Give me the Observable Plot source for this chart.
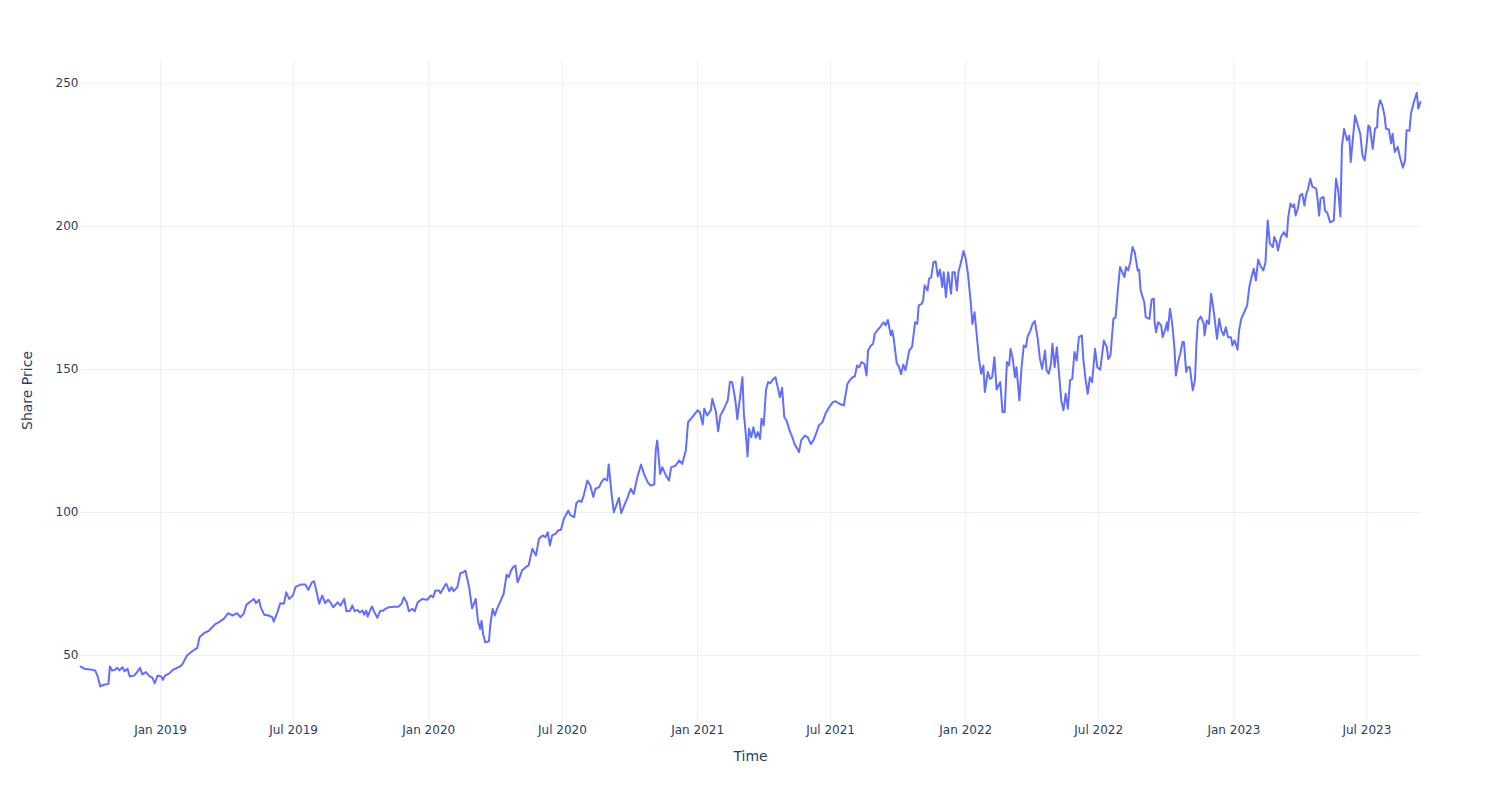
<!DOCTYPE html>
<html>
<head>
<meta charset="utf-8">
<script src="https://cdn.jsdelivr.net/npm/d3@7"></script>
<script src="https://cdn.jsdelivr.net/npm/@observablehq/plot@0.6"></script>
<style>
  html, body { margin: 0; padding: 0; background: #fff; }
  #chart svg { display: block; }
</style>
</head>
<body>
<div id="chart"></div>
<script>
const dates = [
"2018-09-14","2018-09-19","2018-09-30","2018-10-04","2018-10-07","2018-10-11","2018-10-16","2018-10-22","2018-10-24","2018-10-27",
"2018-10-31","2018-11-03","2018-11-06","2018-11-10","2018-11-13","2018-11-17","2018-11-20","2018-11-26","2018-11-30","2018-12-04",
"2018-12-07","2018-12-12","2018-12-16","2018-12-21","2018-12-24","2018-12-28","2019-01-02","2019-01-04","2019-01-07","2019-01-12",
"2019-01-18","2019-01-21","2019-01-28","2019-01-31","2019-02-06","2019-02-13","2019-02-20","2019-02-23","2019-03-01","2019-03-08",
"2019-03-10","2019-03-17","2019-03-21","2019-03-28","2019-04-03","2019-04-09","2019-04-15","2019-04-20","2019-04-24","2019-04-28",
"2019-05-04","2019-05-08","2019-05-11","2019-05-15","2019-05-17","2019-05-22","2019-05-28","2019-06-02","2019-06-04","2019-06-09",
"2019-06-13","2019-06-18","2019-06-21","2019-06-25","2019-06-30","2019-07-04","2019-07-11","2019-07-17","2019-07-21","2019-07-26",
"2019-07-29","2019-08-01","2019-08-05","2019-08-09","2019-08-13","2019-08-17","2019-08-20","2019-08-24","2019-08-30","2019-09-03",
"2019-09-08","2019-09-11","2019-09-16","2019-09-19","2019-09-22","2019-09-26","2019-09-29","2019-10-03","2019-10-05","2019-10-08",
"2019-10-10","2019-10-14","2019-10-16","2019-10-18","2019-10-23","2019-10-27","2019-10-31","2019-11-03","2019-11-08","2019-11-15",
"2019-11-21","2019-11-25","2019-11-28","2019-12-02","2019-12-05","2019-12-10","2019-12-13","2019-12-17","2019-12-23","2019-12-30",
"2020-01-04","2020-01-07","2020-01-10","2020-01-15","2020-01-17","2020-01-23","2020-01-25","2020-01-29","2020-02-01","2020-02-04",
"2020-02-09","2020-02-13","2020-02-17","2020-02-20","2020-02-25","2020-02-29","2020-03-05","2020-03-08","2020-03-11","2020-03-13",
"2020-03-15","2020-03-18","2020-03-23","2020-03-25","2020-03-28","2020-03-31","2020-04-03","2020-04-08","2020-04-12","2020-04-16",
"2020-04-19","2020-04-22","2020-04-25","2020-04-28","2020-05-01","2020-05-03","2020-05-07","2020-05-12","2020-05-16","2020-05-21",
"2020-05-26","2020-05-30","2020-06-04","2020-06-08","2020-06-11","2020-06-14","2020-06-17","2020-06-22","2020-06-25","2020-06-29",
"2020-07-03","2020-07-09","2020-07-12","2020-07-17","2020-07-20","2020-07-24","2020-07-27","2020-07-30","2020-08-04","2020-08-08",
"2020-08-12","2020-08-15","2020-08-20","2020-08-23","2020-08-27","2020-08-31","2020-09-02","2020-09-06","2020-09-09","2020-09-13",
"2020-09-16","2020-09-19","2020-09-24","2020-09-27","2020-10-02","2020-10-06","2020-10-11","2020-10-16","2020-10-20","2020-10-25",
"2020-10-29","2020-11-03","2020-11-05","2020-11-07","2020-11-11","2020-11-14","2020-11-19","2020-11-23","2020-11-26","2020-12-02",
"2020-12-07","2020-12-11","2020-12-16","2020-12-19","2020-12-25","2021-01-01","2021-01-04","2021-01-08","2021-01-10","2021-01-14",
"2021-01-19","2021-01-21","2021-01-26","2021-01-29","2021-02-01","2021-02-06","2021-02-11","2021-02-14","2021-02-17","2021-02-20",
"2021-02-22","2021-02-24","2021-02-28","2021-03-03","2021-03-05","2021-03-08","2021-03-10","2021-03-12","2021-03-15","2021-03-18",
"2021-03-21","2021-03-24","2021-03-27","2021-03-29","2021-04-01","2021-04-04","2021-04-07","2021-04-10","2021-04-14","2021-04-17",
"2021-04-20","2021-04-23","2021-04-26","2021-04-29","2021-05-02","2021-05-07","2021-05-10","2021-05-13","2021-05-17","2021-05-19",
"2021-05-22","2021-05-27","2021-05-31","2021-06-04","2021-06-08","2021-06-12","2021-06-15","2021-06-20","2021-06-24","2021-06-29",
"2021-07-04","2021-07-08","2021-07-13","2021-07-19","2021-07-24","2021-07-27","2021-07-31","2021-08-03","2021-08-06","2021-08-09",
"2021-08-12","2021-08-16","2021-08-19","2021-08-21","2021-08-25","2021-08-28","2021-08-30","2021-09-03","2021-09-07","2021-09-11",
"2021-09-14","2021-09-17","2021-09-21","2021-09-23","2021-09-25","2021-09-29","2021-10-02","2021-10-05","2021-10-08","2021-10-11",
"2021-10-16","2021-10-20","2021-10-24","2021-10-27","2021-10-29","2021-11-02","2021-11-04","2021-11-06","2021-11-10","2021-11-12",
"2021-11-15","2021-11-18","2021-11-21","2021-11-24","2021-11-27","2021-11-30","2021-12-02","2021-12-05","2021-12-08","2021-12-12",
"2021-12-14","2021-12-17","2021-12-20","2021-12-22","2021-12-25","2021-12-29","2022-01-01","2022-01-04","2022-01-08","2022-01-10",
"2022-01-13","2022-01-16","2022-01-19","2022-01-22","2022-01-25","2022-01-27","2022-01-31","2022-02-03","2022-02-06","2022-02-09",
"2022-02-12","2022-02-17","2022-02-20","2022-02-23","2022-02-26","2022-03-01","2022-03-03","2022-03-06","2022-03-09","2022-03-11",
"2022-03-15","2022-03-18","2022-03-21","2022-03-24","2022-03-26","2022-03-30","2022-04-02","2022-04-05","2022-04-09","2022-04-12",
"2022-04-15","2022-04-19","2022-04-21","2022-04-24","2022-04-27","2022-04-29","2022-05-02","2022-05-05","2022-05-08","2022-05-11",
"2022-05-14","2022-05-17","2022-05-20","2022-05-23","2022-05-26","2022-05-29","2022-06-01","2022-06-04","2022-06-08","2022-06-10",
"2022-06-13","2022-06-16","2022-06-19","2022-06-22","2022-06-26","2022-06-29","2022-07-03","2022-07-08","2022-07-12","2022-07-14",
"2022-07-17","2022-07-21","2022-07-24","2022-07-27","2022-07-30","2022-08-02","2022-08-05","2022-08-07","2022-08-10","2022-08-13",
"2022-08-16","2022-08-19","2022-08-23","2022-08-25","2022-08-27","2022-09-01","2022-09-03","2022-09-08","2022-09-11","2022-09-14",
"2022-09-15","2022-09-17","2022-09-20","2022-09-24","2022-09-26","2022-09-29","2022-10-02","2022-10-03","2022-10-06","2022-10-09",
"2022-10-12","2022-10-14","2022-10-17","2022-10-20","2022-10-23","2022-10-25","2022-10-28","2022-10-30","2022-11-02","2022-11-06",
"2022-11-09","2022-11-11","2022-11-13","2022-11-17","2022-11-21","2022-11-22","2022-11-25","2022-11-28","2022-12-01","2022-12-05",
"2022-12-09","2022-12-12","2022-12-15","2022-12-18","2022-12-21","2022-12-24","2022-12-28","2022-12-30","2023-01-02","2023-01-06",
"2023-01-08","2023-01-11","2023-01-15","2023-01-19","2023-01-22","2023-01-25","2023-01-28","2023-01-31","2023-02-03","2023-02-07",
"2023-02-10","2023-02-13","2023-02-16","2023-02-19","2023-02-23","2023-02-25","2023-02-28","2023-03-02","2023-03-06","2023-03-10",
"2023-03-14","2023-03-16","2023-03-19","2023-03-22","2023-03-24","2023-03-26","2023-03-29","2023-04-01","2023-04-04","2023-04-07",
"2023-04-09","2023-04-12","2023-04-15","2023-04-18","2023-04-23","2023-04-25","2023-04-27","2023-04-29","2023-05-03","2023-05-05",
"2023-05-08","2023-05-12","2023-05-17","2023-05-20","2023-05-23","2023-05-26","2023-05-28","2023-05-31","2023-06-04","2023-06-07",
"2023-06-09","2023-06-12","2023-06-15","2023-06-18","2023-06-22","2023-06-25","2023-06-28","2023-07-01","2023-07-03","2023-07-05",
"2023-07-09","2023-07-12","2023-07-15","2023-07-16","2023-07-19","2023-07-22","2023-07-25","2023-07-27","2023-07-31","2023-08-03",
"2023-08-05","2023-08-08","2023-08-12","2023-08-15","2023-08-19","2023-08-22","2023-08-24","2023-08-28","2023-08-30","2023-09-03",
"2023-09-07","2023-09-09","2023-09-12"
];

const prices = [
46.2,45.4,45.0,44.8,43.0,39.2,39.8,40.1,46.2,44.8,
45.0,45.7,44.8,45.9,44.5,45.4,42.7,43.0,44.2,45.7,
43.4,44.2,43.0,42.2,40.3,43.0,42.7,41.5,43.0,43.6,
45.0,45.4,46.2,47.1,50.0,51.5,52.7,56.4,57.8,58.7,
59.3,61.1,61.6,62.8,64.8,64.0,64.8,63.4,64.6,67.8,
69.0,69.8,68.3,69.5,67.1,64.3,64.0,63.4,61.9,65.1,
68.3,68.1,72.1,69.8,71.0,74.1,74.8,74.8,73.0,75.6,
76.0,72.7,68.1,71.0,68.3,69.5,68.6,66.9,68.6,67.5,
69.8,65.5,65.7,67.5,65.5,66.0,65.1,65.7,64.3,65.7,
63.6,66.3,67.1,65.7,63.2,65.7,65.7,66.3,66.9,67.1,
67.1,68.1,70.4,68.6,65.5,66.3,65.5,68.6,69.8,69.5,
71.0,70.4,72.7,72.7,71.8,74.5,75.1,72.5,73.9,72.5,
73.9,78.8,79.1,79.7,73.9,66.5,69.8,62.2,59.3,62.2,
57.6,54.6,55.0,61.1,66.3,64.0,66.3,69.2,71.6,78.3,
77.4,79.7,80.9,81.5,75.6,76.8,79.7,80.9,81.5,87.3,
85.0,90.8,92.0,91.4,93.1,88.5,92.0,92.6,93.7,94.0,
97.8,100.7,99.0,98.4,103.3,104.2,103.7,106.0,111.2,109.4,
105.4,108.3,108.9,110.6,111.8,111.2,116.8,106.3,100.1,103.0,
105.1,99.8,103.0,104.8,108.3,106.5,112.3,116.8,113.5,110.6,
109.4,109.8,121.7,125.2,113.5,115.8,112.9,111.2,115.8,116.4,
118.2,117.0,121.7,131.6,133.4,135.7,135.1,130.8,136.3,133.9,
135.7,139.8,135.1,128.4,133.9,136.3,139.2,145.6,145.6,141.5,
138.0,132.6,140.8,147.3,134.5,126.3,119.6,129.3,126.3,129.8,
126.1,128.1,125.7,132.8,130.4,142.7,145.6,145.2,146.7,147.3,
143.8,140.3,143.6,133.3,132.2,128.1,126.3,123.9,122.2,121.1,
125.2,126.9,126.3,123.9,125.4,128.1,130.4,131.6,134.5,136.8,
138.6,138.9,138.0,137.4,145.0,146.2,147.3,147.6,151.4,150.8,
152.6,152.0,147.9,156.6,158.4,159.0,162.4,163.8,165.0,166.5,
165.4,167.3,161.9,163.6,160.7,152.2,151.0,148.3,151.7,149.7,
156.6,158.0,166.5,165.9,172.4,172.9,174.1,179.4,177.6,181.7,
182.2,187.5,187.8,182.5,184.9,178.8,184.0,175.3,184.0,176.5,
184.0,184.0,177.6,184.0,186.9,191.4,188.7,183.4,172.9,165.9,
170.0,161.9,153.7,148.5,151.4,142.1,149.1,146.7,147.3,154.3,
143.0,145.6,135.1,135.1,152.6,151.4,157.2,153.7,147.3,150.8,
139.2,150.8,158.4,157.8,161.3,163.6,166.0,166.9,160.7,153.7,
150.2,156.6,149.7,148.5,152.0,159.0,150.8,157.8,148.5,139.2,
135.7,141.5,136.3,146.2,146.7,156.1,153.1,161.3,161.9,153.7,
146.7,141.5,147.3,145.6,157.2,150.8,149.9,160.1,157.8,153.7,
154.9,167.7,168.2,177.6,185.8,184.0,182.3,185.8,184.6,187.5,
192.8,191.0,184.6,184.9,177.6,173.5,168.3,167.7,174.4,174.8,
167.1,163.0,166.5,165.4,161.3,163.6,166.5,163.6,171.2,166.0,
157.8,147.9,152.6,155.5,159.6,159.6,149.1,150.8,150.8,142.7,
146.2,159.0,167.1,168.5,165.9,161.9,167.1,165.9,176.5,169.5,
160.7,167.7,163.6,161.9,164.8,161.3,161.3,158.4,160.1,156.9,
163.6,167.7,170.0,172.4,178.8,182.3,185.2,181.1,188.4,185.8,
184.6,187.5,202.1,194.0,192.8,196.3,194.5,191.6,196.3,198.0,
196.3,203.3,208.0,206.8,207.7,203.8,206.2,210.8,211.4,207.3,
210.8,213.2,216.7,213.8,213.2,209.1,203.8,209.7,210.3,205.5,
204.9,201.4,202.1,216.7,212.6,203.5,227.8,234.1,230.1,231.8,
222.5,230.7,238.8,235.9,232.4,224.8,223.1,229.5,235.3,234.7,
227.1,234.2,234.7,240.6,244.1,242.3,238.8,234.2,233.9,229.0,
232.4,226.0,227.8,224.3,220.5,223.1,233.6,233.4,239.4,243.5,
246.7,241.2,243.5
];

const xTickDates = ["2019-01-01","2019-07-01","2020-01-01","2020-07-01","2021-01-01","2021-07-01","2022-01-01","2022-07-01","2023-01-01","2023-07-01"];
const yTickValues = [50, 100, 150, 200, 250];
const xTitle = "Time";
const yTitle = "Share Price";

const data = dates.map((d, i) => ({date: new Date(d), price: prices[i]}));
const xTicks = xTickDates.map(d => new Date(d));
const gridColor = "#ebf0f8";
const fmt = d3.utcFormat("%b %Y");

const chart = Plot.plot({
  width: 1500,
  height: 800,
  marginLeft: 80,
  marginRight: 80,
  marginTop: 60,
  marginBottom: 80,
  style: {fontFamily: "'DejaVu Sans', Verdana, sans-serif", fontSize: "12px", color: "#2a3f5f", background: "#fff"},
  x: {type: "utc", domain: d3.extent(data, d => d.date), label: null},
  y: {domain: [27.3, 258], label: null},
  marks: [
    Plot.gridX(xTicks, {stroke: gridColor, strokeOpacity: 1, strokeWidth: 1}),
    Plot.gridY(yTickValues, {stroke: gridColor, strokeOpacity: 1, strokeWidth: 1}),
    Plot.lineY(data, {x: "date", y: "price", stroke: "#636efa", strokeWidth: 2}),
    Plot.axisX(xTicks, {tickSize: 0, tickPadding: 5, tickFormat: fmt, label: null, fontSize: 12}),
    Plot.axisY(yTickValues, {tickSize: 0, tickPadding: 2, label: null, fontSize: 12}),
    Plot.text([xTitle], {text: d => d, frameAnchor: "bottom", dy: 36, lineAnchor: "middle", textAnchor: "middle", fontSize: 14}),
    Plot.text([yTitle], {text: d => d, frameAnchor: "left", dx: -53, rotate: -90, lineAnchor: "middle", textAnchor: "middle", fontSize: 14})
  ]
});
document.getElementById("chart").appendChild(chart);
</script>
</body>
</html>
